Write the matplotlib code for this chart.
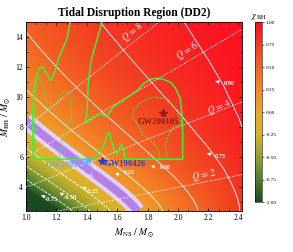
import numpy as np
import matplotlib
matplotlib.use("Agg")
import matplotlib.pyplot as plt
from matplotlib.colors import LinearSegmentedColormap
from matplotlib.ticker import MultipleLocator, AutoMinorLocator

plt.rcParams['font.family'] = ['Liberation Serif', 'DejaVu Serif']
plt.rcParams['mathtext.fontset'] = 'stix'

# ---------------- data ----------------
# DD2 equation of state: mass-radius table (Msun, km)
dd2_mass = [0.8, 1.0, 1.2, 1.4, 1.6, 1.8, 2.0, 2.2, 2.3, 2.4, 2.42]
dd2_radius_km = [13.42, 13.45, 13.42, 13.36, 13.28, 13.16, 12.98, 12.68, 12.45, 12.05, 11.90]
# remnant-mass fit coefficients (Foucart+2018)
fit_alpha, fit_beta, fit_gamma = 0.406, 0.139, 0.255

mass_ratios = [2, 4, 6, 8]
chi_levels = [-0.75, -0.5, -0.25, 0.25, 0.5, 0.75, 0.9]
band_level = 0.03

# contour value labels: (text, arrow head x, y, text x, y)
level_labels = ['-0.75', '-0.50', '-0.25', '0.25', '0.50', '0.75', '0.90']
level_head_x = [1.10, 1.22, 1.37, 1.585, 1.82, 2.19, 2.245]
level_head_y = [3.45, 3.62, 4.02, 4.85, 5.40, 6.25, 11.05]
level_text_x = [1.165, 1.29, 1.435, 1.68, 1.915, 2.28, 2.335]
level_text_y = [3.20, 3.34, 3.74, 4.99, 5.29, 6.05, 10.90]

q_label_x = [2.17, 2.27, 2.06, 1.70]
q_label_y = [4.80, 9.30, 13.10, 14.30]

# GW events
events = ['GW200105', 'GW200115', 'GW190426']
event_mns = [1.90, 1.41, 1.50]
event_mbh = [8.93, 5.84, 5.73]
event_colors = ['#8b1a1a', '#5ab4f0', '#2a3cc8']

# 90% (solid) posterior contour, open at the top
post90_mns = [1.29, 1.27, 1.22, 1.18, 1.16, 1.14, 1.11, 1.085, 1.065, 1.05, 1.045, 1.045, 1.05,
              1.468, 1.47, 1.50, 1.52, 1.535, 1.548, 1.565, 1.585, 1.60, 1.62, 1.63, 1.645, 1.65,
              2.03, 2.03, 2.026, 2.015, 1.98, 1.95, 1.90, 1.86, 1.82, 1.775, 1.73, 1.685,
              1.575, 1.53, 1.485, 1.445, 1.39, 1.40, 1.41, 1.43, 1.50]
post90_mbh = [15.0, 13.9, 12.7, 11.4, 11.1, 11.5, 12.0, 11.9, 11.2, 10.2, 8.8, 7.0, 5.87,
              5.87, 6.40, 6.55, 6.95, 7.60, 7.65, 6.95, 6.30, 6.20, 6.70, 6.85, 6.40, 5.87,
              5.87, 8.00, 8.80, 9.90, 10.65, 10.99, 11.20, 11.25, 11.20, 10.90, 10.45, 10.10,
              9.35, 8.70, 8.90, 8.60, 8.25, 8.80, 11.0, 12.5, 15.0]
# 50% (dotted) posterior contours
post50a_mns = [1.88, 1.87, 1.84, 1.77, 1.73, 1.70, 1.71, 1.75, 1.80, 1.84, 1.93, 1.99, 2.025,
               1.97, 1.96, 1.93, 1.915, 1.93]
post50a_mbh = [5.87, 6.50, 6.95, 7.50, 8.25, 8.70, 9.20, 9.60, 9.90, 10.0, 9.90, 9.10, 8.20,
               8.00, 7.80, 7.35, 6.70, 5.87]
post50b_mns = [1.055, 1.055, 1.06, 1.075, 1.09, 1.10, 1.125, 1.135, 1.16, 1.19, 1.22, 1.245,
               1.27, 1.29, 1.30, 1.29, 1.26, 1.235, 1.225, 1.22]
post50b_mbh = [5.87, 8.0, 10.5, 11.45, 11.3, 11.0, 10.1, 9.45, 9.0, 9.3, 10.0, 10.3,
               10.45, 10.1, 9.0, 8.3, 7.7, 7.0, 6.5, 5.87]

# ---------------- model field ----------------
xlim = (1.0, 2.42)
ylim = (2.42, 15.0)
mns = np.linspace(xlim[0], xlim[1], 400)
mbh = np.linspace(ylim[0], ylim[1], 400)
MNS, MBH = np.meshgrid(mns, mbh)
R = np.interp(MNS, dd2_mass, dd2_radius_km)
C = 1.4766 * MNS / R
Q = MBH / MNS
eta = Q / (1 + Q) ** 2
risco_needed = (fit_alpha * (1 - 2 * C) / eta ** (1 / 3) + fit_gamma) * eta / (fit_beta * C)

chi_tab = np.linspace(-1, 1, 2001)
z1 = 1 + (1 - chi_tab ** 2) ** (1 / 3) * ((1 + chi_tab) ** (1 / 3) + (1 - chi_tab) ** (1 / 3))
z2 = np.sqrt(3 * chi_tab ** 2 + z1 ** 2)
risco_tab = 3 + z2 - np.sign(chi_tab) * np.sqrt((3 - z1) * (3 + z1 + 2 * z2))
chi = np.interp(risco_needed, risco_tab[::-1], chi_tab[::-1])

cmap = LinearSegmentedColormap.from_list('chi', [
    (0.0, '#1b4a22'), (0.125, '#4f7d2c'), (0.25, '#93a02e'), (0.375, '#d3b52a'),
    (0.5, '#eaaa2a'), (0.625, '#f28a26'), (0.75, '#f36424'), (0.875, '#f43a22'),
    (1.0, '#ff0a22')])

fig = plt.figure(figsize=(2.93, 2.52), dpi=100)
ax = fig.add_axes([0.0887, 0.1627, 0.737, 0.75])
cax = fig.add_axes([0.870, 0.198, 0.024, 0.714])

im = ax.imshow(chi, extent=[xlim[0], xlim[1], ylim[0], ylim[1]], origin='lower',
               aspect='auto', cmap=cmap, vmin=-1, vmax=1, interpolation='bilinear')
ax.contour(MNS, MBH, chi, levels=chi_levels, colors='white', linewidths=0.6)

# uncertainty band around the non-spinning disruption boundary
cs0 = ax.contour(MNS, MBH, chi, levels=[band_level], colors='none')
band_segs = cs0.allsegs[0]
cs0.remove()
for seg in band_segs:
    ax.plot(seg[:, 0], seg[:, 1], color='#e5d0f5', lw=11.5, solid_capstyle='butt', zorder=2)
    ax.plot(seg[:, 0], seg[:, 1], color='#b482e6', lw=5.8, solid_capstyle='butt', zorder=2)

ax.set_xlim(*xlim)
ax.set_ylim(*ylim)

# Q lines
xq = np.array(xlim)
for q in mass_ratios:
    ax.plot(xq, q * xq, color='white', lw=0.6, ls=(0, (2, 1.5)), alpha=0.9, zorder=3)

fig.canvas.draw()
def pix_angle(slope):
    p0 = ax.transData.transform((1.5, 5.0))
    p1 = ax.transData.transform((1.6, 5.0 + 0.1 * slope))
    return np.degrees(np.arctan2(p1[1] - p0[1], p1[0] - p0[0]))

for q, tx, ty in zip(mass_ratios, q_label_x, q_label_y):
    ax.text(tx, ty, r'$Q\,=\,%d$' % q, color='white', fontsize=7, alpha=0.9,
            rotation=pix_angle(q), ha='center', va='center', rotation_mode='anchor', zorder=4)

# contour labels with arrows
for t, hx, hy, tx, ty in zip(level_labels, level_head_x, level_head_y, level_text_x, level_text_y):
    ax.annotate(t, xy=(hx, hy), xytext=(tx, ty), color='white', fontsize=4.5, fontweight='bold',
                ha='center', va='center', zorder=4,
                arrowprops=dict(arrowstyle='-|>', color='white', lw=0.8, mutation_scale=4,
                                shrinkA=3, shrinkB=0))

# posterior contours
green = '#3cf03c'
ax.plot(post90_mns, post90_mbh, color=green, lw=1.1, zorder=4)
ax.plot(post50a_mns, post50a_mbh, color=green, lw=0.9, ls=(0, (1, 1)), zorder=4)
ax.plot(post50b_mns, post50b_mbh, color=green, lw=0.9, ls=(0, (1, 1)), zorder=4)

# sigma labels
ax.text(1.445, 5.3, r'1$\sigma$', color='white', fontsize=3.8, rotation=-45,
        ha='center', va='center', zorder=4)
ax.text(1.425, 4.8, r'2$\sigma$', color='white', fontsize=3.8, rotation=-45,
        ha='center', va='center', zorder=4)

# events
for name, x, y, c in zip(events, event_mns, event_mbh, event_colors):
    ax.plot(x, y, marker='*', color=c, ms=5.5, mec=c, zorder=5)
ax.text(1.87, 8.35, events[0], color=event_colors[0], fontsize=6.2, fontweight='bold',
        ha='center', va='center', zorder=5)
ax.text(1.395, 5.5, events[1], color=event_colors[1], fontsize=6.2, fontweight='bold',
        ha='right', va='center', zorder=5)
ax.text(1.52, 5.53, events[2], color=event_colors[2], fontsize=6.2, fontweight='bold',
        ha='left', va='center', zorder=5)

# axes styling
ax.xaxis.set_major_locator(MultipleLocator(0.2))
ax.xaxis.set_minor_locator(AutoMinorLocator(3))
ax.yaxis.set_major_locator(MultipleLocator(2))
ax.yaxis.set_minor_locator(AutoMinorLocator(2))
ax.tick_params(which='both', direction='in', top=True, right=True, labelsize=5.5, pad=2)
ax.tick_params(which='major', length=2.5, width=0.5)
ax.tick_params(which='minor', length=1.5, width=0.4)
for s in ax.spines.values():
    s.set_linewidth(0.6)
ax.set_xlabel(r'$M_{\rm NS}\ /\ M_{\odot}$', fontsize=7, labelpad=4)
ax.set_ylabel(r'$M_{\rm BH}\ /\ M_{\odot}$', fontsize=7, labelpad=2)
ax.set_title('Tidal Disruption Region (DD2)', fontsize=8.3, fontweight='bold', pad=4)

cb = fig.colorbar(im, cax=cax)
cb.set_ticks([-1, -0.75, -0.5, -0.25, 0, 0.25, 0.5, 0.75, 1.0])
cb.ax.set_yticklabels(['-1.00', '-0.75', '-0.50', '-0.25', '0.00', '0.25', '0.50', '0.75', '1.00'])
cb.ax.tick_params(labelsize=3.8, length=1.5, width=0.4, pad=1)
cb.outline.set_linewidth(0.4)
cax.set_title(r'$\chi_{\rm BH}$', fontsize=6.5, pad=3)

fig.savefig('out.png', dpi=100)
